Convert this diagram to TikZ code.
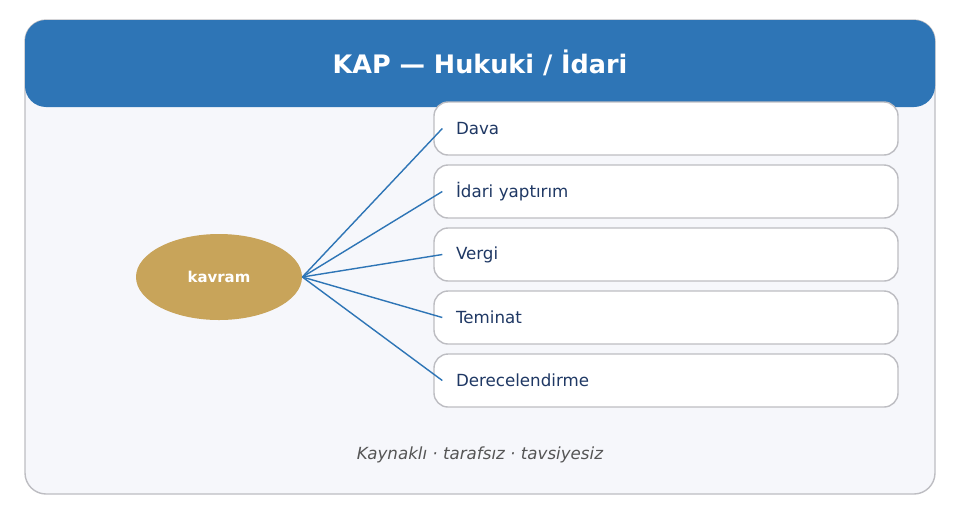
\documentclass[tikz,border=0pt]{standalone}
\usepackage{fontspec}
\setmainfont{DejaVu Sans}
\usetikzlibrary{positioning, shapes.geometric}
\definecolor{headblue}{HTML}{2E75B6}
\definecolor{panelbg}{HTML}{F6F7FB}
\definecolor{edgegray}{HTML}{BDBDC2}
\definecolor{gold}{HTML}{C8A45A}
\definecolor{itemtext}{HTML}{1F3864}
\definecolor{footgray}{HTML}{555555}

\begin{document}
\begin{tikzpicture}[
    x=0.02cm, y=-0.02cm,
    itembox/.style={
        rectangle,
        rounded corners=8pt,
        draw=edgegray,
        thick,
        fill=white,
        minimum width=464*0.02cm,
        minimum height=53*0.02cm,
        text width=420*0.02cm,
        align=left,
        font=\fontsize{9.5}{11}\selectfont,
        text=itemtext
    },
    link/.style={
        draw=headblue,
        thick
    }
]
\useasboundingbox (0,0) rectangle (959,515);

% Panel and header
\draw[edgegray, thick, fill=panelbg, rounded corners=12pt] (25,20) rectangle (935,494);
\fill[headblue, rounded corners=12pt] (25,20) rectangle (935,107);
\node[text=white, font=\bfseries\fontsize{14.5}{16}\selectfont] (title) at (480,63) {KAP — Hukuki / İdari};

% Centre
\node[ellipse, fill=gold, minimum width=166*0.02cm, minimum height=86*0.02cm,
      inner sep=0pt, text=white, font=\bfseries\fontsize{8.5}{10}\selectfont] (kavram) at (219,277) {kavram};

% Items
\node[itembox] (dava) at (666,128.5) {Dava};
\node[itembox] (idari) at (666,191.5) {İdari yaptırım};
\node[itembox] (vergi) at (666,254.5) {Vergi};
\node[itembox] (teminat) at (666,317.5) {Teminat};
\node[itembox] (derece) at (666,380.5) {Derecelendirme};

% Links
\foreach \n in {dava, idari, vergi, teminat, derece}
    \draw[link] (kavram.east) -- ([xshift=9*0.02cm]\n.west);

% Footer
\node[text=footgray, font=\itshape\fontsize{9.5}{11}\selectfont] (foot) at (480,455) {Kaynaklı · tarafsız · tavsiyesiz};
\end{tikzpicture}
\end{document}
